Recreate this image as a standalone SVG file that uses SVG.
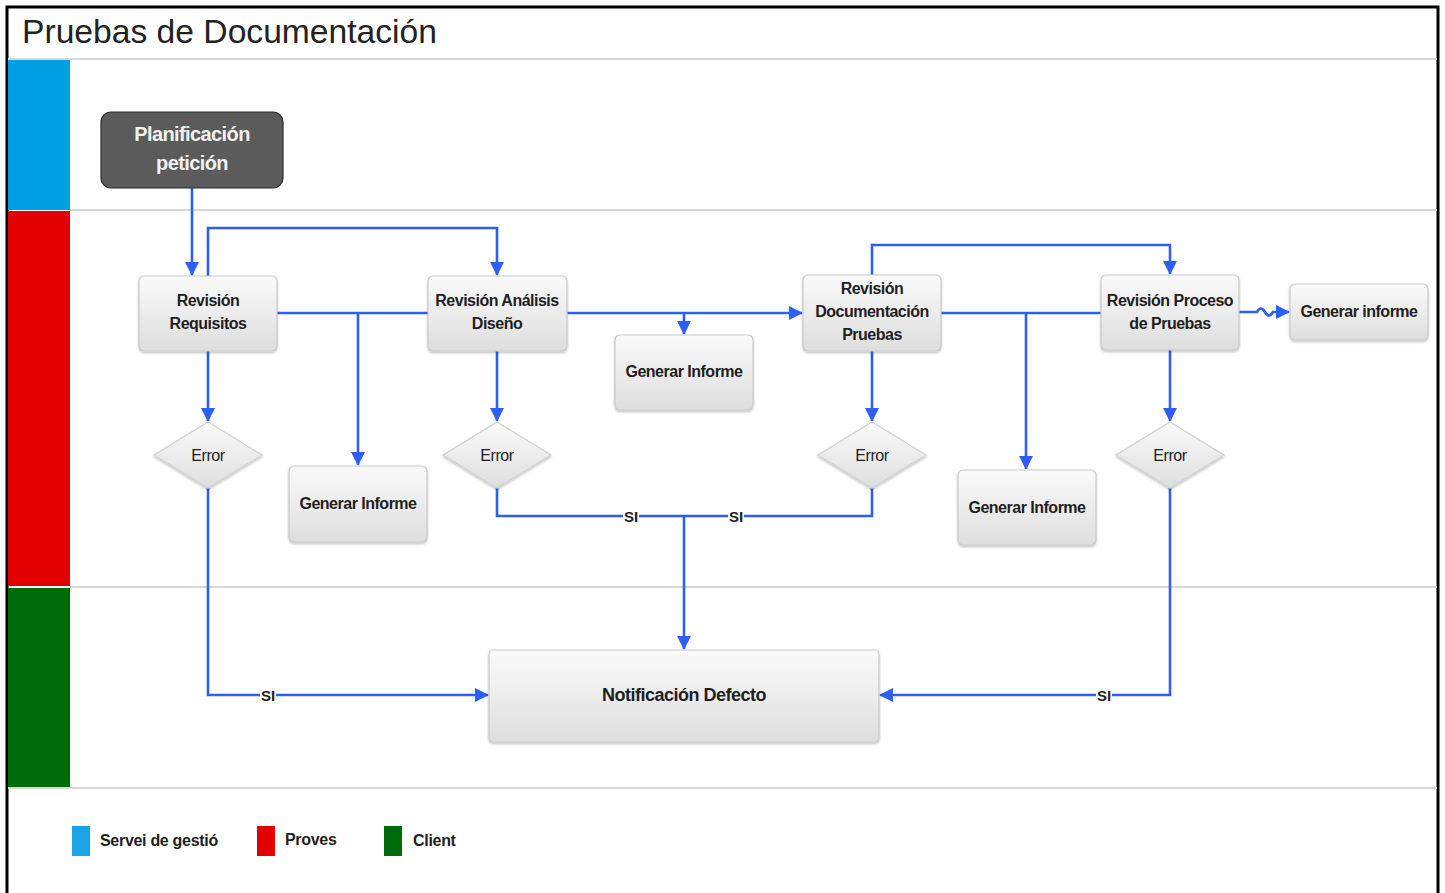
<svg xmlns="http://www.w3.org/2000/svg" width="1445" height="893" viewBox="0 0 1445 893">
  <defs>
    <linearGradient id="boxFill" x1="0" y1="0" x2="0" y2="1">
      <stop offset="0" stop-color="#fafafa"/>
      <stop offset="1" stop-color="#dedede"/>
    </linearGradient>
    <filter id="soft" x="-10%" y="-10%" width="120%" height="130%">
      <feDropShadow dx="0" dy="1.5" stdDeviation="1.2" flood-color="#000" flood-opacity="0.25"/>
    </filter>
    <marker id="arrow" viewBox="0 0 14 14" refX="13" refY="7" markerWidth="14" markerHeight="14" markerUnits="userSpaceOnUse" orient="auto">
      <path d="M0,0 L14,7 L0,14 Z" fill="#2d5ff5"/>
    </marker>
    <style>
      .box { fill: url(#boxFill); stroke: #c9c9c9; stroke-width: 1.2; filter: url(#soft); }
      .dia { fill: url(#boxFill); stroke: #d0d0d0; stroke-width: 1.2; filter: url(#soft); }
      .lbl { font-family: "Liberation Sans", Arial, sans-serif; font-size: 16px; font-weight: bold; fill: #1e1e1e; text-anchor: middle; letter-spacing: -0.5px; }
      .err { font-family: "Liberation Sans", Arial, sans-serif; font-size: 16px; fill: #1e1e1e; text-anchor: middle; letter-spacing: -0.4px; }
      .conn { fill: none; stroke: #2d5ff5; stroke-width: 2.6; }
      .si { font-family: "Liberation Sans", Arial, sans-serif; font-size: 15px; font-weight: bold; fill: #1e1e1e; text-anchor: middle; }
      .sep { stroke: #d6d6d6; stroke-width: 2; }
      .leg { font-family: "Liberation Sans", Arial, sans-serif; font-size: 16px; font-weight: bold; fill: #1e1e1e; letter-spacing: -0.3px; }
      .dark { font-family: "Liberation Sans", Arial, sans-serif; font-size: 20px; font-weight: bold; fill: #f2f2f2; text-anchor: middle; letter-spacing: -0.6px; }
    </style>
  </defs>

  <!-- page background and frame -->
  <rect x="0" y="0" width="1445" height="893" fill="#ffffff"/>
  <rect x="7" y="7" width="1431" height="900" fill="#ffffff" stroke="#000" stroke-width="3"/>

  <!-- title -->
  <text x="22" y="43" font-family="Liberation Sans, Arial, sans-serif" font-size="34" fill="#222" textLength="415" lengthAdjust="spacingAndGlyphs">Pruebas de Documentación</text>

  <!-- swimlanes -->
  <g id="lanes">
    <rect x="8" y="60" width="62" height="150" fill="#009fe3"/>
    <rect x="8" y="211" width="62" height="375" fill="#e30000"/>
    <rect x="8" y="588" width="62" height="200" fill="#006b0a"/>
    <line class="sep" x1="8" y1="59" x2="1437" y2="59"/>
    <line class="sep" x1="70" y1="210" x2="1437" y2="210"/>
    <line class="sep" x1="70" y1="587" x2="1437" y2="587"/>
    <line class="sep" x1="8" y1="788" x2="1437" y2="788"/>
  </g>

  <!-- connectors -->
  <g id="connectors">
    <path class="conn" d="M192,188 V275" marker-end="url(#arrow)"/>
    <path class="conn" d="M208,276 V228 H497 V275" marker-end="url(#arrow)"/>
    <path class="conn" d="M277,313 H428"/>
    <path class="conn" d="M358,313 V465" marker-end="url(#arrow)"/>
    <path class="conn" d="M208,351 V421" marker-end="url(#arrow)"/>
    <path class="conn" d="M497,351 V421" marker-end="url(#arrow)"/>
    <path class="conn" d="M567,313 H802" marker-end="url(#arrow)"/>
    <path class="conn" d="M684,313 V334" marker-end="url(#arrow)"/>
    <path class="conn" d="M872,275 V245 H1170 V274" marker-end="url(#arrow)"/>
    <path class="conn" d="M941,313 H1101"/>
    <path class="conn" d="M1026,313 V469" marker-end="url(#arrow)"/>
    <path class="conn" d="M872,351 V421" marker-end="url(#arrow)"/>
    <path class="conn" d="M1170,350 V421" marker-end="url(#arrow)"/>
    <path class="conn" d="M1239,312 H1257 Q1261,305 1265,312 Q1269,319 1273,312 H1289" marker-end="url(#arrow)"/>
    <path class="conn" d="M208,488 V695 H488" marker-end="url(#arrow)"/>
    <path class="conn" d="M497,488 V516 H872 V488"/>
    <path class="conn" d="M684,516 V649" marker-end="url(#arrow)"/>
    <path class="conn" d="M1170,488 V695 H880" marker-end="url(#arrow)"/>
    <!-- SI labels -->
    <rect x="260" y="686" width="16" height="18" fill="#fff"/>
    <text class="si" x="268" y="701">SI</text>
    <rect x="623" y="507" width="16" height="18" fill="#fff"/>
    <text class="si" x="631" y="522">SI</text>
    <rect x="728" y="507" width="16" height="18" fill="#fff"/>
    <text class="si" x="736" y="522">SI</text>
    <rect x="1096" y="686" width="16" height="18" fill="#fff"/>
    <text class="si" x="1104" y="701">SI</text>
  </g>

  <!-- nodes -->
  <g id="planificacion">
    <rect x="101" y="112" width="182" height="76" rx="10" fill="#5b5b5b" stroke="#2b2b2b" stroke-width="1.2"/>
    <text class="dark" x="192" y="141">Planificación</text>
    <text class="dark" x="192" y="170">petición</text>
  </g>
  <g id="rev-requisitos">
    <rect class="box" x="139" y="276" width="138" height="75" rx="5"/>
    <text class="lbl" x="208" y="306">Revisión</text>
    <text class="lbl" x="208" y="329">Requisitos</text>
  </g>
  <g id="rev-analisis">
    <rect class="box" x="428" y="276" width="139" height="75" rx="5"/>
    <text class="lbl" x="497" y="306">Revisión Análisis</text>
    <text class="lbl" x="497" y="329">Diseño</text>
  </g>
  <g id="informe-1">
    <rect class="box" x="289" y="466" width="138" height="76" rx="5"/>
    <text class="lbl" x="358" y="509">Generar Informe</text>
  </g>
  <g id="informe-2">
    <rect class="box" x="615" y="335" width="138" height="75" rx="5"/>
    <text class="lbl" x="684" y="377">Generar Informe</text>
  </g>
  <g id="rev-documentacion">
    <rect class="box" x="803" y="275" width="138" height="76" rx="5"/>
    <text class="lbl" x="872" y="294">Revisión</text>
    <text class="lbl" x="872" y="317">Documentación</text>
    <text class="lbl" x="872" y="340">Pruebas</text>
  </g>
  <g id="informe-3">
    <rect class="box" x="958" y="470" width="138" height="75" rx="5"/>
    <text class="lbl" x="1027" y="513">Generar Informe</text>
  </g>
  <g id="rev-proceso">
    <rect class="box" x="1101" y="275" width="138" height="75" rx="5"/>
    <text class="lbl" x="1170" y="306">Revisión Proceso</text>
    <text class="lbl" x="1170" y="329">de Pruebas</text>
  </g>
  <g id="informe-4">
    <rect class="box" x="1290" y="284" width="138" height="56" rx="5"/>
    <text class="lbl" x="1359" y="317">Generar informe</text>
  </g>
  <g id="notificacion">
    <rect class="box" x="489" y="650" width="390" height="92" rx="4"/>
    <text class="lbl" x="684" y="701" style="font-size:18px">Notificación Defecto</text>
  </g>
  <g id="error-1">
    <polygon class="dia" points="208,422 262,455 208,488 154,455"/>
    <text class="err" x="208" y="461">Error</text>
  </g>
  <g id="error-2">
    <polygon class="dia" points="497,422 551,455 497,488 443,455"/>
    <text class="err" x="497" y="461">Error</text>
  </g>
  <g id="error-3">
    <polygon class="dia" points="872,422 926,455 872,488 818,455"/>
    <text class="err" x="872" y="461">Error</text>
  </g>
  <g id="error-4">
    <polygon class="dia" points="1170,422 1224,455 1170,488 1116,455"/>
    <text class="err" x="1170" y="461">Error</text>
  </g>

  <!-- legend -->
  <g id="legend">
    <rect x="72" y="826" width="18" height="30" fill="#1aa3e6"/>
    <text class="leg" x="100" y="846">Servei de gestió</text>
    <rect x="257" y="826" width="18" height="30" fill="#e30000"/>
    <text class="leg" x="285" y="845">Proves</text>
    <rect x="384" y="826" width="18" height="30" fill="#006b0a"/>
    <text class="leg" x="413" y="846">Client</text>
  </g>
</svg>
